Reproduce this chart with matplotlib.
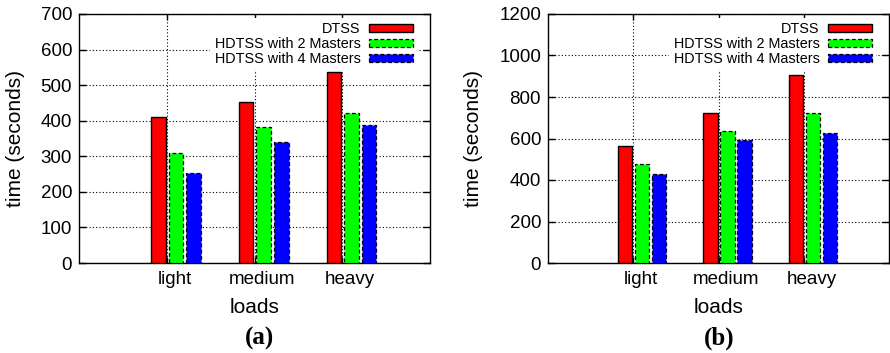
import matplotlib.pyplot as plt

loads = ['light', 'medium', 'heavy']
series_names = ['DTSS', 'HDTSS with 2 Masters', 'HDTSS with 4 Masters']
colors = ['#ff0000', '#00ff00', '#0000ff']
edge_styles = ['solid', (0, (3, 2)), (0, (3, 2))]

time_a = [
    [410, 452, 536],   # DTSS
    [310, 381, 421],   # HDTSS 2 masters
    [254, 341, 387],   # HDTSS 4 masters
]
time_b = [
    [565, 722, 905],
    [475, 637, 725],
    [430, 594, 627],
]

plt.rcParams['font.family'] = ['Liberation Sans', 'DejaVu Sans']

fig = plt.figure(figsize=(8.9, 3.53), dpi=100)


def draw_panel(rect, data, ymax, ystep, ylab_x, caption, cap_x, axw):
    ax = fig.add_axes(rect)
    pos = [1, 2, 3]
    offsets = [-0.095, 0.105, 0.305]
    width = 0.167
    for k in range(3):
        ax.bar([p + offsets[k] for p in pos], data[k], width, color=colors[k],
               edgecolor='black', linewidth=1.0 if k == 0 else 0.9,
               linestyle=edge_styles[k], capstyle='butt', joinstyle='miter',
               label=series_names[k], zorder=3)
    ax.set_xlim(0, 4)
    ax.set_ylim(0, ymax)
    ax.set_yticks(range(0, ymax + 1, ystep))
    ax.set_xticks([p + 0.09 for p in pos], loads)
    ax.set_xticks(pos, minor=True)
    ax.tick_params(axis='x', which='major', length=0, pad=6, labelsize=13.5)
    ax.tick_params(axis='x', which='minor', direction='in', length=4,
                   top=True, bottom=True, width=1)
    ax.tick_params(axis='y', direction='in', length=5, right=True, width=1,
                   labelsize=13.5, pad=5)
    ax.grid(True, which='minor', axis='x', color='black', linestyle=(0, (1, 2)), linewidth=0.8)
    ax.grid(True, which='major', axis='y', color='black', linestyle=(0, (1, 2)), linewidth=0.8)
    ax.set_axisbelow(True)
    for s in ax.spines.values():
        s.set_linewidth(1.0)
    ax.set_ylabel('time (seconds)', fontsize=15, va='center')
    ax.yaxis.set_label_coords(ylab_x, 0.5)
    ax.set_xlabel('loads', fontsize=15, va='center')
    ax.xaxis.set_label_coords(0.5, -0.18)
    leg = ax.legend(loc='upper right', bbox_to_anchor=(1 - 13 / axw, 1 - 4 / 249),
                    markerfirst=False, fontsize=10.4,
                    handlelength=3.0, handleheight=0.5, labelspacing=0.05,
                    handletextpad=0.6, borderpad=0.3, borderaxespad=0,
                    frameon=True, fancybox=False)
    leg.get_frame().set_edgecolor('none')
    leg.get_frame().set_facecolor('white')
    leg.get_frame().set_alpha(1)
    for t in leg.get_texts():
        t.set_ha('right')
    fig.text(cap_x, 1 - 338 / 353, caption, fontsize=18, fontweight='bold',
             family='Liberation Serif', ha='center', va='center')
    return ax


draw_panel([79 / 890, 90 / 353, 351 / 890, 249 / 353], time_a, 700, 100, -0.182, '(a)', 259 / 890, 351)
draw_panel([548 / 890, 90 / 353, 341 / 890, 249 / 353], time_b, 1200, 200, -0.219, '(b)', 719 / 890, 341)

fig.savefig('out.png', dpi=100)
